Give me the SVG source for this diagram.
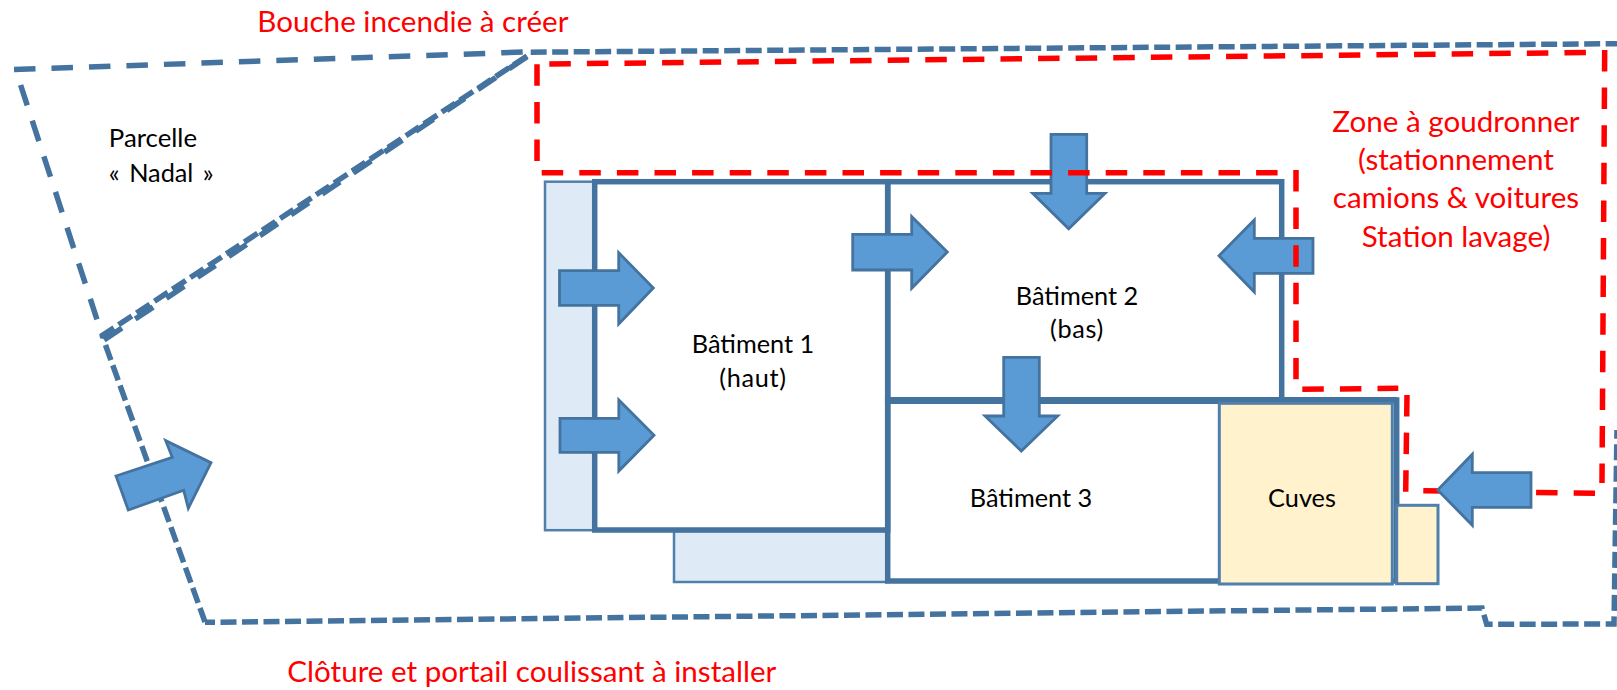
<svg xmlns="http://www.w3.org/2000/svg" width="1617" height="690" viewBox="0 0 1617 690">
<style>
text{font-family:"Lato","Open Sans","Liberation Sans",sans-serif}
.k{font-size:25.3px;fill:#000}
.r{font-size:29.6px;fill:#f00}
.m{text-anchor:middle}
.p{letter-spacing:.7px}
.wall{fill:none;stroke:#44739f;stroke-width:5.5}
.wt{fill:none;stroke:#44739f;stroke-width:7}
.lb{fill:#deeaf6;stroke:#4f7fab;stroke-width:2.5}
.cv{fill:#fff2cc;stroke:#4f7fab;stroke-width:3}
.ar{fill:#5b9bd5;stroke:#44739f;stroke-width:2.8}
.fl{fill:none;stroke:#44739f;stroke-width:5.5;stroke-dasharray:16 5.5}
.fr{fill:none;stroke:#44739f;stroke-width:5.5;stroke-dasharray:21.5 16}
.rd{fill:none;stroke:#f00;stroke-width:5.5;stroke-dasharray:21.5 16.1}
</style>
<g id="connectors">
<path id="fence-nadal-top" class="fr" d="M14 69.5L526 52"/>
<path id="fence-nadal-left" class="fr" d="M20.6 85L103 338"/>
<path id="fence-diagonal-a" class="fr" d="M527 56.7L104 340"/>
<path id="fence-diagonal-b" class="fl" d="M527 56L100 337"/>
<path id="fence-top" class="fl" d="M530.7 52.2L1617 43.7"/>
<path id="fence-west" class="fl" d="M105.500 345L205 622"/>
<path id="fence-south" class="fl" stroke-dashoffset="6" d="M205 622.3L1482 608L1486.7 624.3L1614 624L1617 430"/>
</g>
<g id="batiment-1-annexe"><rect class="lb" x="545" y="181.7" width="50" height="348.5"/></g>
<g id="batiment-1-annexe-sud"><rect class="lb" x="674" y="531" width="214" height="51"/></g>
<g id="batiment-1"><rect class="wall" x="594.7" y="181.7" width="293" height="348.3"/><text class="k m" x="753" y="352.7">Bâtiment 1</text><text class="k m p" x="753" y="386.7">(haut)</text></g>
<g id="batiment-2"><rect class="wall" x="887.7" y="181.7" width="394" height="218.3"/><text class="k m" x="1077" y="305">Bâtiment 2</text><text class="k m p" x="1077" y="338.3">(bas)</text></g>
<g id="batiment-3"><rect class="wall" x="887.7" y="400" width="509" height="181"/><path class="wt" d="M887 400.500H1397"/><text class="k m" x="1031" y="506.7">Bâtiment 3</text></g>
<g id="cuves"><rect class="cv" x="1219.3" y="403.3" width="173" height="180.7"/><text class="k m" x="1302" y="506.7">Cuves</text></g>
<g id="cuves-annexe"><rect class="cv" x="1396.7" y="505.3" width="41.3" height="78.4"/></g>
<g id="arrows-under">
<polygon class="ar" points="1051,134.3 1086.7,134.3 1086.7,193.3 1105,193.3 1068.7,228.7 1032.7,193.3 1051,193.3"/>
<polygon class="ar" points="1313,238.3 1254.3,238.3 1254.3,220 1219,255.7 1254.3,292 1254.3,273.3 1313,273.3"/>
</g>
<g id="connectors-red">
<path class="rd" d="M549.3 64L1586 52.5"/>
<path class="rd" d="M537 64.3V161"/>
<path class="rd" d="M541.7 172.7H1277.6"/>
<path class="rd" d="M1296 170V379.3"/>
<path class="rd" d="M1302.3 389.3L1398.3 388.3"/>
<path class="rd" d="M1407 395L1405.7 492.7"/>
<path class="rd" d="M1423.3 490.7L1595 493.3"/>
<path class="rd" d="M1604.7 50L1602 483"/>
</g>
<g id="arrows">
<polygon class="ar" points="559.5,270.7 618.7,270.7 618.7,252.7 653.3,288 618.7,324 618.7,305.3 559.5,305.3"/>
<polygon class="ar" points="560,418.3 618.8,418.3 618.8,400 654,435.3 618.8,471 618.8,452.3 560,452.3"/>
<polygon class="ar" points="852.7,234.3 911.7,234.3 911.7,216.7 947.3,252 911.7,288.3 911.7,270 852.7,270"/>
<polygon class="ar" points="1003.7,357.3 1039.3,357.3 1039.3,416 1057.7,416 1021.3,451 985,416 1003.7,416"/>
<polygon class="ar" points="1531,472.7 1472.3,472.7 1472.3,454.3 1437.7,490 1472.3,525.3 1472.3,507.3 1531,507.3"/>
<polygon class="ar" points="116,476 172.3,457.3 165.7,440.7 211,462.700 188.3,508.3 183.700,490.3 128.3,510"/>
</g>
<g id="labels">
<text class="k" x="108.8" y="147.3" style="font-size:25.800px">Parcelle</text>
<text class="k" x="108.8" y="181.7" style="word-spacing:3px">« Nadal »</text>
<text class="r" x="257.300" y="31.700">Bouche incendie à créer</text>
<text class="r m" x="1456" y="131.7">Zone à goudronner</text>
<text class="r m" x="1456" y="170">(stationnement</text>
<text class="r m" x="1456" y="208.3">camions &amp; voitures</text>
<text class="r m" x="1456" y="246.7">Station lavage)</text>
<text class="r" x="287.300" y="681.700">Clôture et portail coulissant à installer</text>
</g>
</svg>
